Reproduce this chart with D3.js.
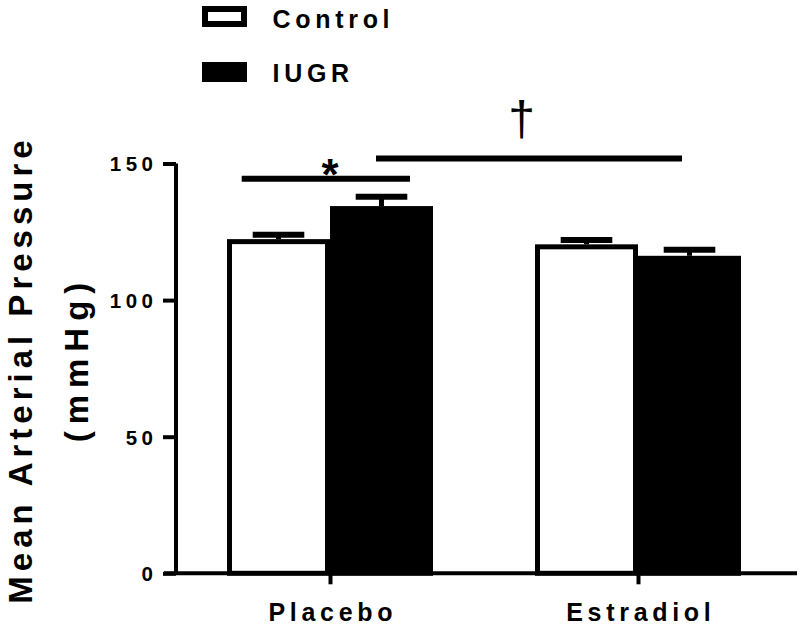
<!DOCTYPE html>
<html>
<head>
<meta charset="utf-8">
<script src="https://cdn.jsdelivr.net/npm/d3@7"></script>
<style>
  html, body { margin: 0; padding: 0; background: #fff; }
  svg { display: block; }
  text { font-family: "Liberation Sans", Arial, sans-serif; fill: #000; }
</style>
</head>
<body>
<svg id="chart" width="800" height="627"></svg>
<script>
// ---- data ----
const categories = ["Placebo", "Estradiol"];
const seriesNames = ["Control", "IUGR"];
const controlValues = [121.4, 119.5];
const iugrValues = [133.5, 115.3];
const controlErrors = [123.9, 122.0];   // upper end of error bar
const iugrErrors = [137.8, 118.4];
const yTicks = [0, 50, 100, 150];
const yTitle = "Mean Arterial Pressure";
const yUnit = "(mmHg)";

const svg = d3.select("#chart");
const FONT = "'Liberation Sans', Arial, sans-serif";

const y = d3.scaleLinear().domain([0, 150]).range([573.3, 163.5]);
const x0 = d3.scalePoint().domain(categories).range([330, 638]);
const x1 = d3.scaleBand().domain(seriesNames).range([-103, 103]);
const fill = d3.scaleOrdinal().domain(seriesNames).range(["#fff", "#000"]);

const values = { Control: controlValues, IUGR: iugrValues };
const errors = { Control: controlErrors, IUGR: iugrErrors };

const rows = [];
categories.forEach((c, i) => seriesNames.forEach(s => rows.push({ cat: c, s, v: values[s][i], e: errors[s][i] })));

const SW = 5;
const g = svg.append("g");
rows.forEach(d => {
  const bx = x0(d.cat) + x1(d.s);
  const bw = x1.bandwidth();
  const cx = bx + bw / 2;
  g.append("rect")
    .attr("x", bx + SW / 2).attr("width", bw - SW)
    .attr("y", y(d.v)).attr("height", y(0) - y(d.v))
    .attr("fill", fill(d.s)).attr("stroke", "#000").attr("stroke-width", SW);
  g.append("line").attr("x1", cx).attr("x2", cx)
    .attr("y1", y(d.v) - SW / 2).attr("y2", y(d.e))
    .attr("stroke", "#000").attr("stroke-width", 5);
  g.append("line").attr("x1", cx - 25.8).attr("x2", cx + 25.8)
    .attr("y1", y(d.e)).attr("y2", y(d.e))
    .attr("stroke", "#000").attr("stroke-width", 6);
});

// ---- Y axis ----
const yAxis = d3.axisLeft(y).tickValues(yTicks).tickSize(13).tickPadding(0).tickFormat(d3.format("d"));
const ya = svg.append("g").attr("transform", "translate(176,0)").call(yAxis);
ya.select(".domain").attr("stroke", "#000").attr("stroke-width", 4)
  .attr("d", `M0,${y(150)}V${y(0)}`);
ya.selectAll(".tick line").attr("stroke", "#000").attr("stroke-width", 4);
ya.selectAll(".tick text")
  .attr("x", -18.5).attr("dy", "0.36em")
  .style("font-family", FONT).style("font-size", "20.5px").style("font-weight", "bold")
  .style("letter-spacing", "4.5px").attr("fill", "#000");

// ---- X axis ----
const xAxis = d3.axisBottom(x0).tickSize(11).tickPadding(0);
const xa = svg.append("g").attr("transform", `translate(0,${y(0)})`).call(xAxis);
xa.select(".domain").attr("stroke", "#000").attr("stroke-width", 4).attr("d", "M164,0H797");
xa.selectAll(".tick line").attr("stroke", "#000").attr("stroke-width", 4);
xa.selectAll(".tick text")
  .attr("y", 47.7).attr("dy", 0).attr("x", 2.35)
  .style("font-family", FONT).style("font-size", "25px").style("font-weight", "bold")
  .style("letter-spacing", "4.7px").attr("fill", "#000");

// ---- Y title ----
svg.append("text")
  .attr("transform", "translate(32,369.5) rotate(-90)")
  .attr("text-anchor", "middle")
  .style("font-size", "33px").style("font-weight", "bold").style("letter-spacing", "5px")
  .text(yTitle);
svg.append("text")
  .attr("transform", "translate(87.5,359) rotate(-90)")
  .attr("text-anchor", "middle")
  .style("font-size", "33px").style("font-weight", "bold").style("letter-spacing", "7px")
  .text(yUnit);

// ---- significance annotations ----
const starY = y(144.4);
svg.append("line").attr("x1", x0("Placebo") - 88.3).attr("x2", x0("Placebo") + 80)
  .attr("y1", starY).attr("y2", starY).attr("stroke", "#000").attr("stroke-width", 6);
svg.append("text").attr("x", x0("Placebo")).attr("y", 190).attr("text-anchor", "middle")
  .style("font-size", "44px").style("font-weight", "bold").text("*");

const dagY = y(151.8);
svg.append("line").attr("x1", x0("Placebo") + 46).attr("x2", x0("Estradiol") + 44)
  .attr("y1", dagY).attr("y2", dagY).attr("stroke", "#000").attr("stroke-width", 6);
svg.append("text").attr("x", 521.7).attr("y", 135).attr("text-anchor", "middle")
  .style("font-size", "48px").text("\u2020");

// ---- legend ----
const legend = svg.append("g");
seriesNames.forEach((s, i) => {
  if (s === "Control") {
    legend.append("rect").attr("x", 205).attr("y", 9).attr("width", 39).attr("height", 15)
      .attr("fill", "#fff").attr("stroke", "#000").attr("stroke-width", 6);
  } else {
    legend.append("rect").attr("x", 202).attr("y", 62).attr("width", 45).attr("height", 20)
      .attr("fill", "#000");
  }
  legend.append("text").attr("x", 272.5).attr("y", i === 0 ? 28 : 82)
    .style("font-size", "25px").style("font-weight", "bold").style("letter-spacing", "4.7px")
    .text(s);
});
</script>
</body>
</html>
